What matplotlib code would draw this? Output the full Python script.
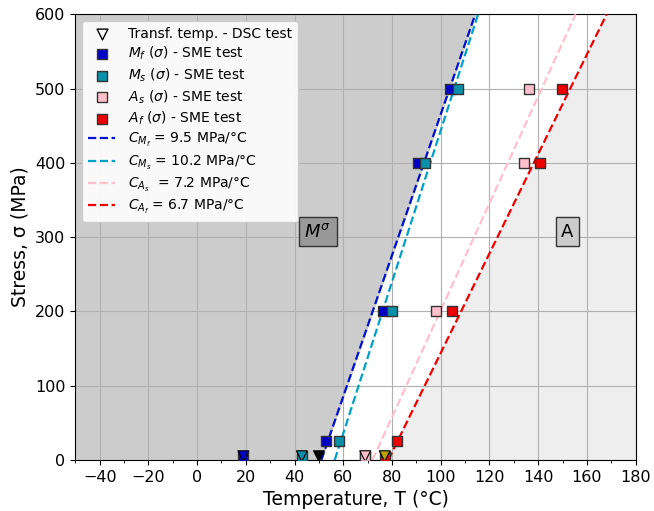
import matplotlib.pyplot as plt
import numpy as np

# SME test points (temperature in °C, stress in MPa)
stress = [0, 25, 200, 400, 500]
mf_T = [19, 52.8, 76.3, 90.7, 104.0]
ms_T = [43, 58.3, 79.8, 93.5, 107.2]
as_T = [69, 69, 98.0, 134.1, 136.3]
af_T = [77, 82, 104.8, 140.6, 149.6]
mf_s = [5, 25, 200, 400, 500]
ms_s = [5, 25, 200, 400, 500]
as_s = [5, 5, 200, 400, 500]
af_s = [5, 25, 200, 400, 500]

# DSC transformation temperatures (stress-free)
dsc_T = [19, 43, 50, 69, 77]
dsc_colors = ["#0000c8", "#0a8fa8", "black", "#ffc0cb", "#b8a000"]

# Clausius-Clapeyron fits: slope (MPa/°C) and zero-stress intercept (°C)
slopes = [9.5, 10.2, 7.2, 6.7]
intercepts = [51.0, 56.5, 72.0, 78.5]

fig, ax = plt.subplots(figsize=(6.54, 5.11), dpi=100)
fig.subplots_adjust(left=0.115, right=0.972, top=0.972, bottom=0.1)

xmin, xmax = -50, 180
s = np.linspace(0, 600, 50)
blue_T = intercepts[0] + s / slopes[0]
red_T = intercepts[3] + s / slopes[3]
ax.fill_betweenx(s, xmin, blue_T, color="#cccccc", zorder=0)
ax.fill_betweenx(s, red_T, xmax, color="#eeeeee", zorder=0)

ax.grid(True, color="#b0b0b0", linewidth=0.8, zorder=1)
ax.set_axisbelow(True)

line_colors = ["#0010d0", "#00a0c8", "#ffc0cb", "#ee0000"]
line_labels = [r"$C_{M_f}$ = 9.5 MPa/°C", r"$C_{M_s}$ = 10.2 MPa/°C",
               r"$C_{A_s}$  = 7.2 MPa/°C", r"$C_{A_f}$ = 6.7 MPa/°C"]

ax.scatter(dsc_T, [5] * len(dsc_T), marker="v", s=60, c=dsc_colors,
           edgecolors="black", linewidths=0.8, zorder=5)
ax.scatter([], [], marker="v", s=60, facecolors="white", edgecolors="black",
           label="Transf. temp. - DSC test")

sq = dict(marker="s", s=55, edgecolors="#333333", linewidths=1.0, zorder=4)
ax.scatter(mf_T, mf_s, c="#0000c8", label=r"$M_f$ ($\sigma$) - SME test", **sq)
ax.scatter(ms_T, ms_s, c="#0a8fa8", label=r"$M_s$ ($\sigma$) - SME test", **sq)
ax.scatter(as_T, as_s, c="#ffc0cb", label=r"$A_s$ ($\sigma$) - SME test", **sq)
ax.scatter(af_T, af_s, c="#ee0000", label=r"$A_f$ ($\sigma$) - SME test", **sq)

for k, b, c, lab in zip(slopes, intercepts, line_colors, line_labels):
    ax.plot(b + s / k, s, "--", color=c, linewidth=1.6, label=lab, zorder=3)

ax.text(49.5, 307, r"$M^{\sigma}$", fontsize=13, ha="center", va="center",
        bbox=dict(boxstyle="square,pad=0.3", facecolor="#999999", edgecolor="#333333"))
ax.text(152, 307, "A", fontsize=13, ha="center", va="center",
        bbox=dict(boxstyle="square,pad=0.3", facecolor="#cccccc", edgecolor="#333333"))

ax.set_xlim(xmin, xmax)
ax.set_ylim(0, 600)
ax.set_xticks(np.arange(-40, 181, 20))
ax.set_xticks(np.arange(-50, 181, 10), minor=True)
ax.set_yticks(np.arange(0, 601, 100))
ax.tick_params(labelsize=11.5)
ax.set_xlabel("Temperature, T (°C)", fontsize=13.5)
ax.set_ylabel("Stress, σ (MPa)", fontsize=13.5)

ax.legend(loc="upper left", fontsize=10, framealpha=0.9, borderpad=0.4,
          handlelength=2.0, handletextpad=0.9, labelspacing=0.3)

fig.savefig("out.png")
